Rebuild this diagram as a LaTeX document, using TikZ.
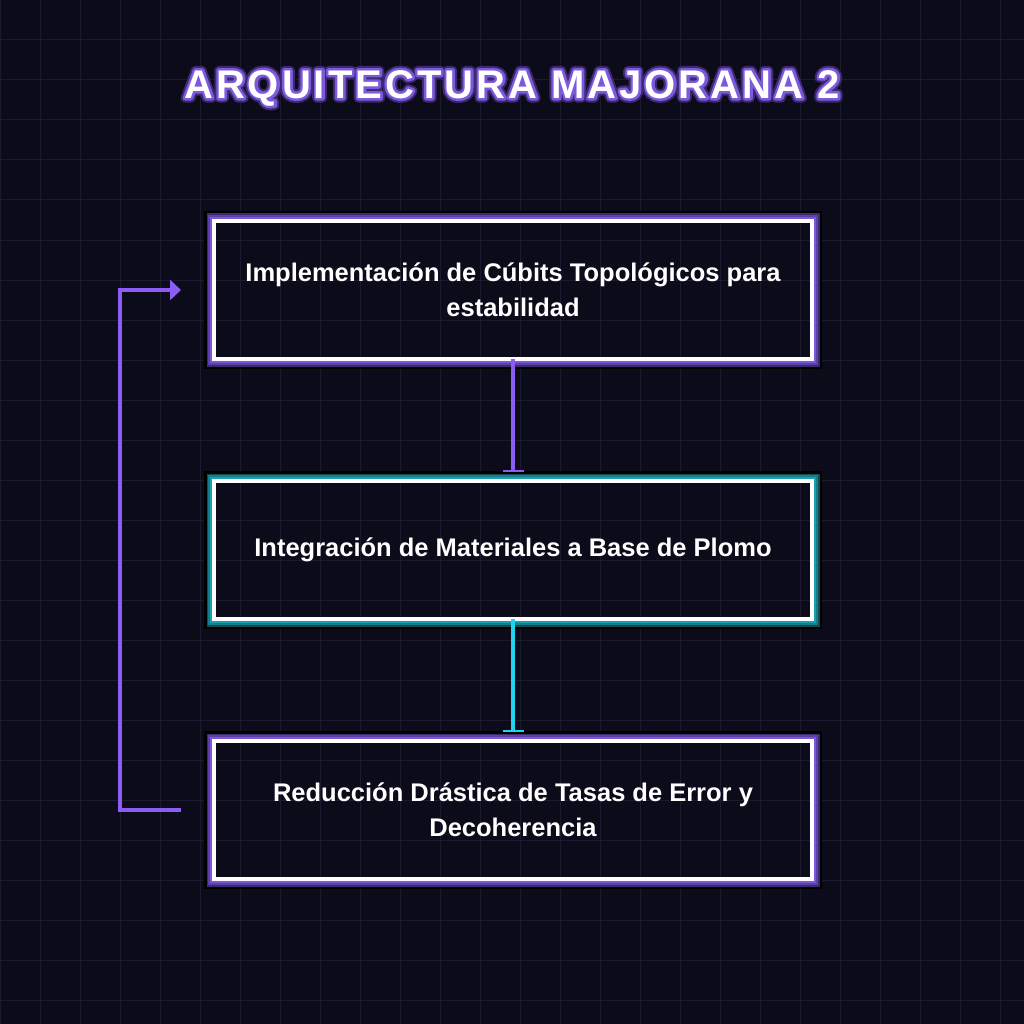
\documentclass[tikz,border=0pt]{standalone}
\usepackage{fontspec}
\setmainfont{Liberation Sans}
\usetikzlibrary{arrows.meta,calc}
\definecolor{bg}{HTML}{0B0B1A}
\definecolor{gridc}{HTML}{1B1A2F}
\definecolor{pbright}{HTML}{7B57D9}
\definecolor{pmid}{HTML}{5C40A8}
\definecolor{pdark}{HTML}{3A2A70}
\definecolor{tbright}{HTML}{1A9FB0}
\definecolor{tmid}{HTML}{167C88}
\definecolor{tdark}{HTML}{0E4D56}
\definecolor{violetc}{HTML}{8B5CF6}
\definecolor{cyanc}{HTML}{22D3EE}
\newcommand{\glowframe}[4]{%
  \draw[black, line width=8pt] ([shift={(-6,-6)}]#1.north west) rectangle ([shift={(6,6)}]#1.south east);
  \draw[#2, line width=5.5pt] ([shift={(-4.75,-4.75)}]#1.north west) rectangle ([shift={(4.75,4.75)}]#1.south east);
  \draw[#3, line width=3.7pt] ([shift={(-3.85,-3.85)}]#1.north west) rectangle ([shift={(3.85,3.85)}]#1.south east);
  \draw[#4, line width=2pt] ([shift={(-3,-3)}]#1.north west) rectangle ([shift={(3,3)}]#1.south east);
}
\newcommand{\titletext}{ARQUITECTURA MAJORANA 2}
% outline-only text: #1 = stroke width, #2 = r g b
\newcommand{\outlinetext}[2]{\special{pdf:code 1 Tr 1 j #1 w #2 RG}\titletext\special{pdf:code 0 Tr}}
\tikzset{
  stepbox/.style={draw=white, line width=4pt, minimum width=598pt, minimum height=138pt,
    outer sep=0pt, inner sep=0pt, text=white, align=center,
    font=\bfseries\fontsize{25.5}{35}\selectfont},
  gridline/.style={gridc, line width=1pt},
  titlefont/.style={font=\bfseries\fontsize{40}{48}\selectfont\addfontfeatures{LetterSpace=7.5}},
  flowline/.style={line width=4pt, shorten >=9pt, -{Rectangle[length=2.5pt,width=21pt]}},
}
\begin{document}
\begin{tikzpicture}[x=1pt,y=-1pt]
  \fill[bg] (0,0) rectangle (1024,1024);
  \useasboundingbox (0,0) rectangle (1024,1024);
  \foreach \g in {0,40,...,1000} {
    \draw[gridline] (\g,0) -- (\g,1024);
    \draw[gridline] (0,\g) -- (1024,\g);
  }
  % title with purple outline and glow
  \node[titlefont, text=pdark] (titleglow) at (512,88) {\outlinetext{9}{0.23 0.165 0.44}};
  \node[titlefont, text=pbright] (titleline) at (512,88) {\outlinetext{5}{0.49 0.35 0.86}};
  \node[titlefont, text=white] (title) at (512,88) {\titletext};

  \node[stepbox] (b1) at (513,290) {Implementación de Cúbits Topológicos para\\estabilidad};
  \node[stepbox] (b2) at (513,550) {Integración de Materiales a Base de Plomo};
  \node[stepbox] (b3) at (513,810) {Reducción Drástica de Tasas de Error y\\Decoherencia};
  \glowframe{b1}{pdark}{pmid}{pbright}
  \glowframe{b2}{tdark}{tmid}{tbright}
  \glowframe{b3}{pdark}{pmid}{pbright}

  \draw[flowline, violetc] (b1.south) -- (b2.north);
  \draw[flowline, cyanc] (b2.south) -- (b3.north);

  \coordinate (fbS) at ([xshift=-33pt]b3.west);
  \coordinate (fbE) at ([xshift=-33pt]b1.west);
  \draw[violetc, line width=3.5pt, -{Triangle[length=11pt,width=20pt]}]
    (fbS) -- ++(-61,0) |- (fbE);
\end{tikzpicture}
\end{document}
